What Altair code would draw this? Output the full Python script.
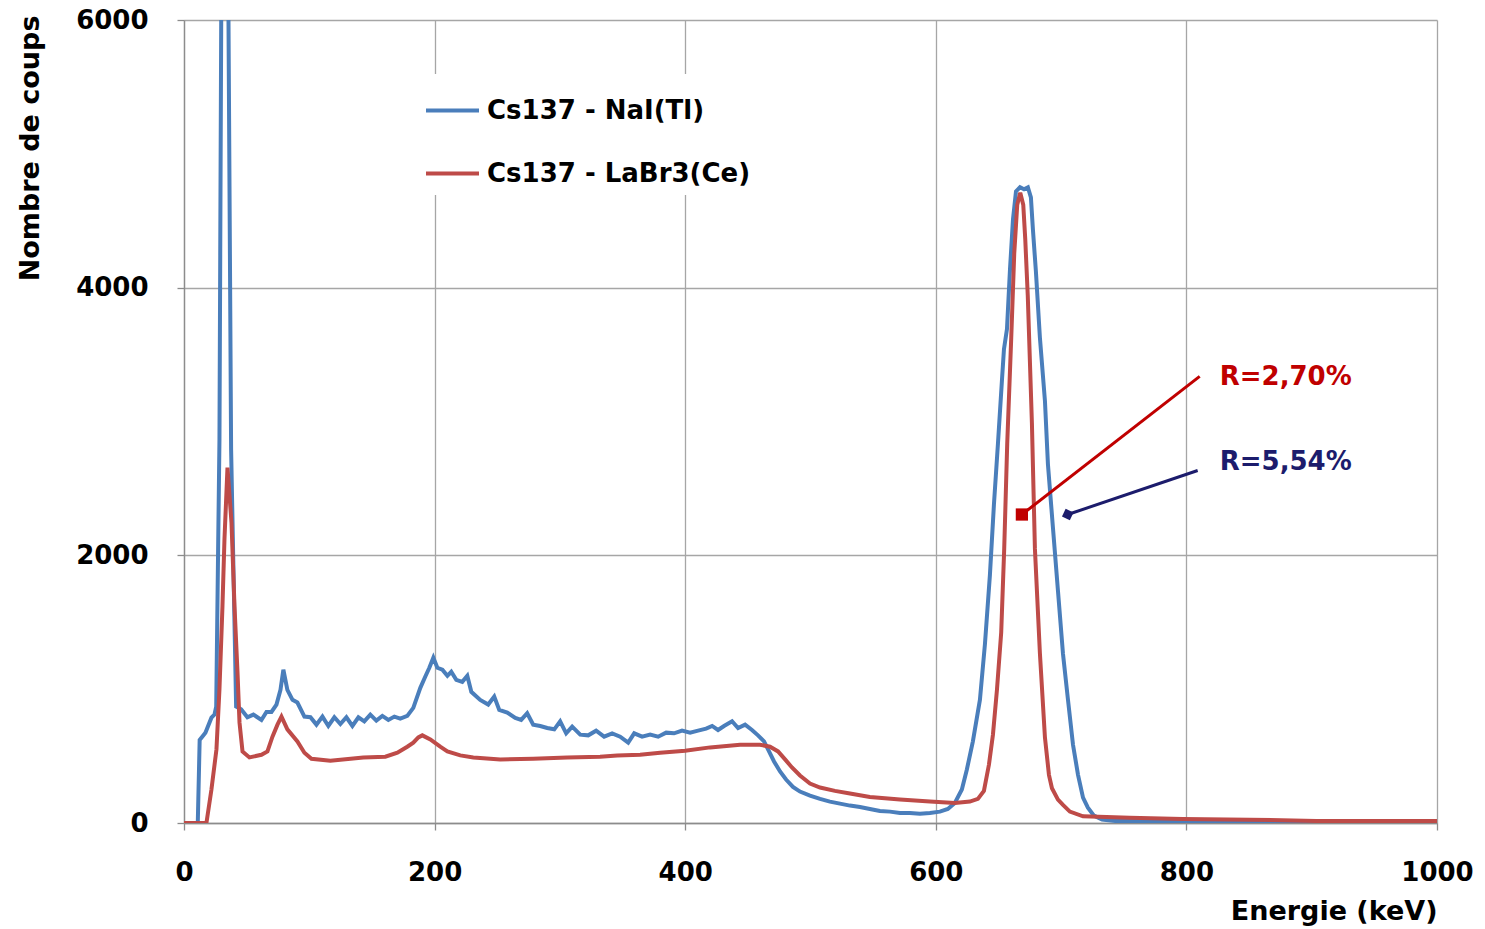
import altair as alt
import pandas as pd

# ---------------- data ----------------
nai_energy = [0, 11, 12.5, 17.1, 21.9, 24.3, 25.7, 28.3, 29.7, 32.7,
              35.5, 37.6, 41.6, 45.6, 50.6, 55.4, 61.8, 65.8, 69.8, 73.8,
              77.0, 79.3, 82.5, 86.6, 90.5, 96.1, 100.9, 105.7, 110.5, 115.2,
              120.0, 124.8, 129.6, 134.4, 139.2, 143.9, 148.7, 153.5, 158.3, 163.1,
              167.9, 172.6, 178.2, 183.0, 188.6, 192.6, 195.8, 199.0, 202.2, 206.2,
              210.2, 213.3, 217.3, 222.1, 226.1, 229.3, 236.4, 242.8, 247.6, 251.6,
              258.0, 264.4, 269.1, 273.9, 278.7, 284.3, 289.9, 295.5, 300.2, 305.0,
              309.8, 316.2, 322.6, 328.9, 335.3, 341.7, 348.1, 354.5, 359.3, 365.6,
              372.0, 378.4, 384.8, 391.1, 397.5, 403.9, 410.3, 416.7, 421.5, 426.2,
              431.0, 437.4, 442.2, 447.8, 453.3, 458.1, 462.9, 466.9, 470.9, 475.7,
              480.5, 486.0, 491.6, 499.6, 507.6, 515.5, 523.5, 531.5, 539.5, 547.4,
              555.4, 563.4, 571.4, 579.3, 587.3, 595.3, 603.3, 609.6, 615.2, 620.8,
              624.8, 629.6, 635.2, 639.2, 643.2, 646.4, 649.6, 652.8, 654.4, 656.8,
              659.2, 661.6, 664.0, 667.2, 670.4, 673.5, 675.9, 677.5, 679.9, 683.1,
              687.1, 689.5, 693.5, 697.5, 701.5, 705.5, 709.5, 713.5, 717.5, 721.4,
              726.2, 732.7, 743.1, 800, 900, 1000]
nai_counts = [0, 0, 620, 675, 787, 810, 870, 2865, 6005, 9500,
              6005, 2790, 870, 850, 790, 810, 770, 830, 830, 885,
              995, 1145, 995, 920, 900, 795, 790, 735, 795, 725,
              790, 740, 790, 725, 790, 760, 810, 765, 800, 770,
              795, 780, 800, 860, 1010, 1095, 1160, 1235, 1160, 1145,
              1100, 1130, 1070, 1055, 1100, 980, 920, 885, 945, 845,
              825, 785, 770, 820, 735, 725, 710, 700, 760, 670,
              720, 660, 655, 690, 645, 670, 645, 600, 670, 645,
              660, 645, 675, 670, 690, 675, 690, 705, 725, 695,
              725, 760, 710, 735, 695, 655, 610, 535, 460, 385,
              325, 270, 235, 205, 180, 160, 145, 130, 120, 105,
              90, 85, 75, 75, 70, 75, 85, 105, 150, 250,
              400, 610, 920, 1335, 1855, 2380, 2835, 3310, 3540, 3690,
              4135, 4510, 4720, 4750, 4735, 4750, 4675, 4435, 4120, 3625,
              3155, 2680, 2205, 1735, 1265, 920, 585, 360, 190, 115,
              55, 25, 15, 15, 10, 10]

labr_energy = [0, 17.9, 21.9, 25.9, 28.3, 30.7, 32.3, 34.7, 37.9, 40.3,
               42.7, 44.3, 46.7, 52.2, 61.8, 66.6, 70.6, 74.6, 77.8, 82.5,
               90.5, 96.1, 101.7, 116.8, 143.1, 160.7, 170.3, 178.2, 183.0, 187.0,
               190.2, 196.6, 204.5, 210.2, 220.5, 230.9, 252.4, 278.7, 305.8, 332.1,
               345.7, 364.0, 380.0, 399.9, 419.9, 443.8, 459.7, 467.7, 474.1, 479.7,
               485.2, 491.6, 499.6, 507.6, 519.5, 531.5, 547.4, 571.4, 595.3, 615.2,
               627.2, 633.6, 638.4, 642.4, 645.6, 648.8, 652.2, 654.6, 657.0, 660.2,
               662.6, 665.0, 667.4, 669.8, 671.4, 673.4, 676.7, 679.1, 683.1, 687.1,
               690.3, 692.7, 697.5, 701.5, 707.0, 717.5, 754.8, 797.0, 850.4, 903.8, 1000]
labr_counts = [0, 0, 250, 550, 1000, 1620, 2120, 2655, 2245, 1620,
               1125, 750, 535, 490, 510, 535, 645, 735, 795, 700,
               610, 525, 480, 465, 490, 495, 525, 570, 600, 640,
               655, 625, 570, 535, 505, 490, 475, 480, 490, 495,
               505, 510, 525, 540, 565, 585, 585, 570, 535, 475,
               415, 355, 295, 265, 240, 220, 195, 175, 160, 150,
               160, 180, 240, 435, 660, 995, 1425, 2050, 2835, 3625,
               4255, 4620, 4710, 4620, 4360, 3940, 2990, 2050, 1265, 640,
               360, 260, 175, 135, 85, 50, 40, 30, 25, 15, 15]

series_names = ["Cs137 - NaI(Tl)", "Cs137 - LaBr3(Ce)"]
series_colors = ["#4A7EBB", "#BE4B48"]

x_ticks = [0, 200, 400, 600, 800, 1000]
y_ticks = [0, 2000, 4000, 6000]

annot_labels = ["R=2,70%", "R=5,54%"]
annot_colors = ["#C00000", "#1C1C6C"]
annot_text_x = [826.6, 826.6]
annot_text_y = [3329, 2701]
arrow_start_x = [810.6, 809.0]
arrow_start_y = [3337, 2634]
arrow_end_x = [668.7, 705.3]
arrow_end_y = [2305, 2305]
arrow_marker = ["square", "diamond"]
arrow_marker_angle = [0, 340]

# ---------------- tables ----------------
nai_df = pd.DataFrame({"energy": nai_energy, "counts": nai_counts, "series": series_names[0]})
labr_df = pd.DataFrame({"energy": labr_energy, "counts": labr_counts, "series": series_names[1]})
annot_df = pd.DataFrame({
    "energy": annot_text_x, "counts": annot_text_y, "label": annot_labels, "color": annot_colors,
})
arrow_df = pd.DataFrame({
    "energy": arrow_start_x, "counts": arrow_start_y,
    "energy2": arrow_end_x, "counts2": arrow_end_y,
    "color": annot_colors,
})
marker_df = pd.DataFrame({
    "energy": arrow_end_x, "counts": arrow_end_y, "color": annot_colors,
    "shape": arrow_marker, "angle": arrow_marker_angle,
})

FONT = "DejaVu Sans"

x_scale = alt.Scale(domain=[0, 1000], nice=False, zero=False)
y_scale = alt.Scale(domain=[0, 6000], nice=False)

x_axis = alt.Axis(
    values=x_ticks, title="Energie (keV)", format="d",
    titleAnchor="end", titleAlign="right", titleBaseline="middle",
    titleX=1253, titleY=88, titleFont=FONT, titleFontSize=27, titleFontWeight="bold",
    titleColor="black",
    labelFont=FONT, labelFontSize=26, labelFontWeight="bold", labelColor="black",
    labelPadding=29, tickSize=7, labelFlush=False,
)
y_axis = alt.Axis(
    values=y_ticks, title="Nombre de coups", format="d",
    titleAngle=270, titleAlign="right", titleBaseline="middle",
    titleX=-154, titleY=-5, titleFont=FONT, titleFontSize=27, titleFontWeight="bold",
    titleColor="black",
    labelFont=FONT, labelFontSize=26, labelFontWeight="bold", labelColor="black",
    labelPadding=29, tickSize=7, labelFlush=False,
)

color_scale = alt.Scale(domain=series_names, range=series_colors)
legend = alt.Legend(
    orient="none", legendX=232, legendY=54, title=None,
    symbolType="stroke", symbolSize=2809, symbolStrokeWidth=4,
    labelFont=FONT, labelFontSize=26, labelFontWeight="bold", labelColor="black",
    labelOffset=6, rowPadding=21, fillColor="white", padding=8, labelLimit=400,
)

def line_layer(df):
    return alt.Chart(df).mark_line(strokeWidth=4, clip=True).encode(
        x=alt.X("energy:Q", scale=x_scale, axis=x_axis),
        y=alt.Y("counts:Q", scale=y_scale, axis=y_axis),
        color=alt.Color("series:N", scale=color_scale, legend=legend),
    )

nai_line = line_layer(nai_df)
labr_line = line_layer(labr_df)

arrows = alt.Chart(arrow_df).mark_rule(strokeWidth=3).encode(
    x="energy:Q", y="counts:Q", x2="energy2:Q", y2="counts2:Q",
    color=alt.Color("color:N", scale=None),
)
markers = alt.Chart(marker_df).mark_point(filled=True, size=150, opacity=1).encode(
    x="energy:Q", y="counts:Q",
    color=alt.Color("color:N", scale=None),
    shape=alt.Shape("shape:N", scale=None),
    angle=alt.Angle("angle:Q", scale=None),
)
texts = alt.Chart(annot_df).mark_text(
    align="left", baseline="middle", font=FONT, fontSize=26, fontWeight="bold"
).encode(
    x="energy:Q", y="counts:Q", text="label:N",
    color=alt.Color("color:N", scale=None),
)

chart = alt.layer(nai_line, labr_line, arrows, markers, texts).properties(
    width=1253, height=803,
    autosize=alt.AutoSizeParams(type="none"),
    padding={"left": 184, "top": 20, "right": 48, "bottom": 106},
    background="white",
).configure_view(stroke="transparent").configure_axis(
    grid=True, gridColor="#A6A6A6", gridWidth=1.3,
    domainColor="#8C8C8C", domainWidth=1.3, tickColor="#8C8C8C", tickWidth=1.3,
)

chart.save("out.html", embed_options={"renderer": "svg", "actions": False})
